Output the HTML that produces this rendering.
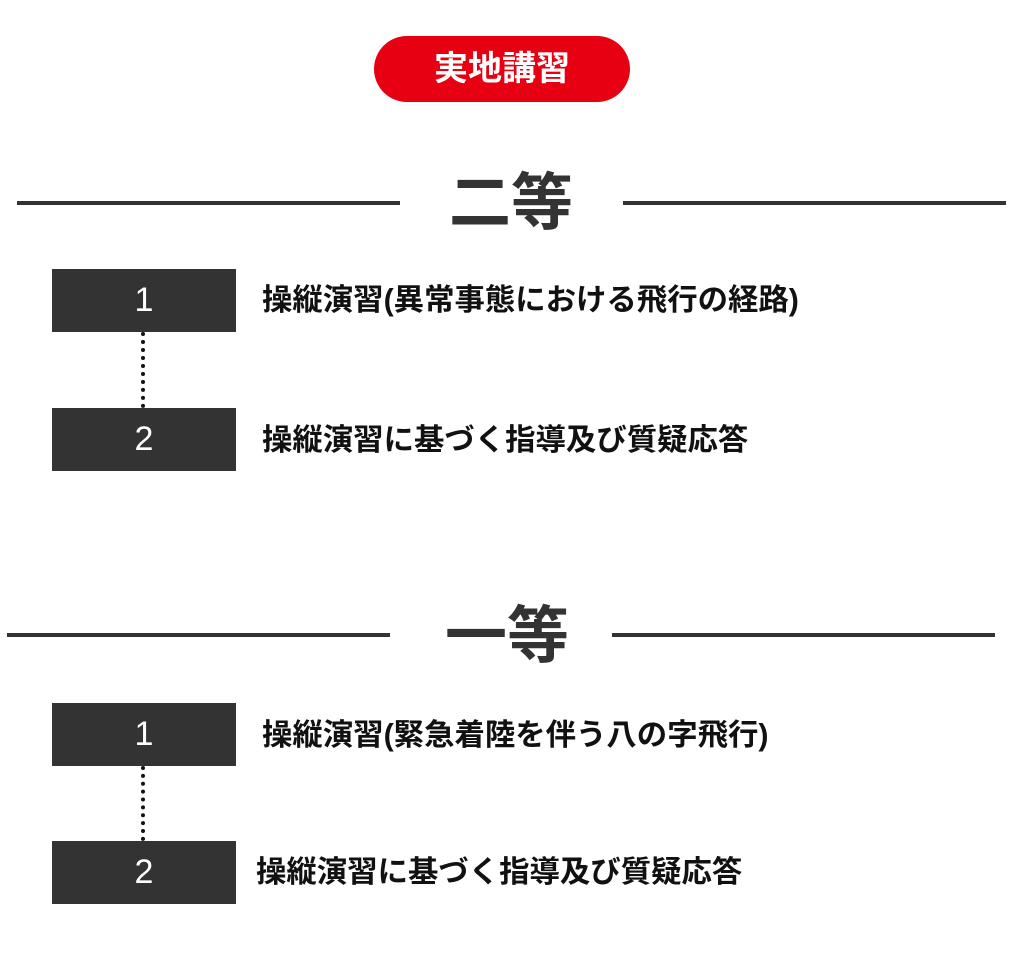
<!DOCTYPE html>
<html><head><meta charset="utf-8"><style>
body{margin:0;width:1024px;height:964px;background:#fff;position:relative;overflow:hidden;font-family:"Liberation Sans","Noto Sans CJK JP",sans-serif;}
.a{position:absolute;}
.pill{left:374px;top:36px;width:256px;height:66px;border-radius:33px;background:#e60012;color:#fff;font-weight:bold;font-size:34px;line-height:66px;text-align:center;}
.line{height:4px;background:#333;}
.title{font-weight:bold;font-size:62px;color:#333;line-height:62px;}
.box{left:52px;width:184px;height:63px;background:#333;color:#fff;font-size:34px;line-height:63px;text-align:center;}
.dot{left:141px;width:0;border-left:4px dotted #111;}
.t{font-weight:bold;font-size:30.4px;color:#111;line-height:32px;white-space:nowrap;}
</style></head><body>
<div class="a pill">実地講習</div>

<div class="a line" style="left:17px;top:201px;width:383px"></div>
<div class="a line" style="left:623px;top:201px;width:383px"></div>
<div class="a title" style="left:449px;top:173px">二等</div>
<div class="a box" style="top:269px">1</div>
<div class="a dot" style="top:332px;height:76px"></div>
<div class="a box" style="top:408px">2</div>
<div class="a t" style="left:262px;top:284px">操縦演習(異常事態における飛行の経路)</div>
<div class="a t" style="left:262px;top:424px">操縦演習に基づく指導及び質疑応答</div>

<div class="a line" style="left:7px;top:633px;width:383px"></div>
<div class="a line" style="left:612px;top:633px;width:383px"></div>
<div class="a title" style="left:445px;top:606px">一等</div>
<div class="a box" style="top:703px">1</div>
<div class="a dot" style="top:766px;height:75px"></div>
<div class="a box" style="top:841px">2</div>
<div class="a t" style="left:262px;top:719px">操縦演習(緊急着陸を伴う八の字飛行)</div>
<div class="a t" style="left:256px;top:856px">操縦演習に基づく指導及び質疑応答</div>
</body></html>
